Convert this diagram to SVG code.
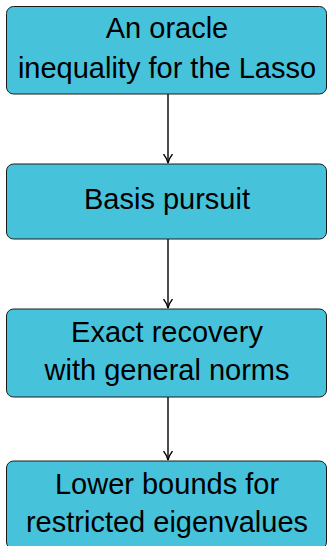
<svg xmlns="http://www.w3.org/2000/svg" width="328" height="546" viewBox="0 0 328 546">
  <style>
    .box { fill: #46c3db; stroke: #1a1a1a; stroke-width: 1; }
    .lbl { font-family: "Liberation Sans", Arial, sans-serif; font-size: 29px; fill: #000; text-anchor: middle; }
    .edge { stroke: #000; stroke-width: 1.4; fill: none; }
  </style>
  <defs>
    <marker id="arrow" viewBox="0 0 10 10" refX="9.5" refY="5" markerWidth="10" markerHeight="10" markerUnits="userSpaceOnUse" orient="auto">
      <path d="M0.5,0.5 Q5,4 9.5,5 Q5,6 0.5,9.5" fill="none" stroke="#000" stroke-width="1.3"/>
    </marker>
  </defs>

  <g id="connectors">
    <line class="edge" x1="168" y1="94" x2="168" y2="163" marker-end="url(#arrow)"/>
    <line class="edge" x1="168" y1="239" x2="168" y2="308" marker-end="url(#arrow)"/>
    <line class="edge" x1="168" y1="397" x2="168" y2="460" marker-end="url(#arrow)"/>
  </g>

  <g id="node-oracle">
    <rect class="box" x="6.5" y="6.5" width="320" height="87.5" rx="7"/>
    <text class="lbl" x="167" y="37.5">An oracle</text>
    <text class="lbl" x="167" y="77.5">inequality for the Lasso</text>
  </g>

  <g id="node-basis">
    <rect class="box" x="6.5" y="164" width="320" height="75" rx="7"/>
    <text class="lbl" x="167" y="208.5">Basis pursuit</text>
  </g>

  <g id="node-exact">
    <rect class="box" x="6.5" y="309" width="320" height="88" rx="7"/>
    <text class="lbl" x="167" y="341.5">Exact recovery</text>
    <text class="lbl" x="167" y="380">with general norms</text>
  </g>

  <g id="node-lower">
    <rect class="box" x="6.5" y="461" width="320" height="88" rx="7"/>
    <text class="lbl" x="167" y="493.5">Lower bounds for</text>
    <text class="lbl" x="167" y="531.5">restricted eigenvalues</text>
  </g>
</svg>
